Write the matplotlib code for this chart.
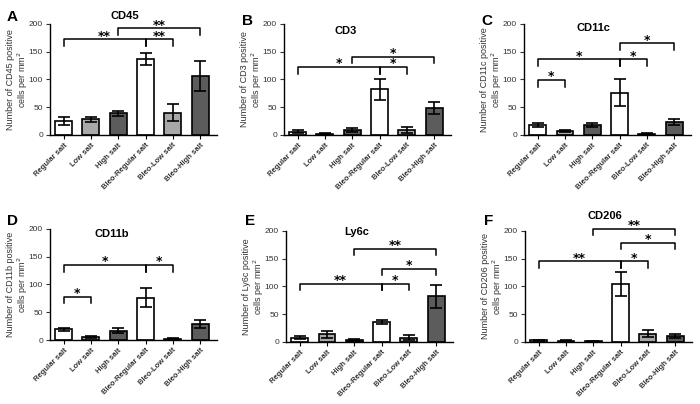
import matplotlib.pyplot as plt
import numpy as np

plt.rcParams['font.family'] = ['Liberation Sans', 'DejaVu Sans']

groups = ["Regular salt", "Low salt", "High salt",
          "Bleo-Regular salt", "Bleo-Low salt", "Bleo-High salt"]
bar_colors = ["white", "#a8a8a8", "#5c5c5c", "white", "#a8a8a8", "#5c5c5c"]

markers = ["CD45", "CD3", "CD11c", "CD11b", "Ly6c", "CD206"]
letters = ["A", "B", "C", "D", "E", "F"]

cd45_mean = [25, 28, 39, 137, 40, 106]
cd45_err = [7, 5, 5, 11, 15, 27]
cd3_mean = [6, 2, 9, 82, 9, 48]
cd3_err = [3, 1, 3, 19, 6, 11]
cd11c_mean = [18, 7, 18, 76, 2, 23]
cd11c_err = [3, 2, 3, 24, 1, 6]
cd11b_mean = [19, 6, 17, 76, 2, 29]
cd11b_err = [2, 2, 4, 17, 1, 7]
ly6c_mean = [8, 14, 3, 36, 8, 82]
ly6c_err = [3, 6, 2, 4, 5, 21]
cd206_mean = [3, 2, 1, 104, 15, 11]
cd206_err = [1, 1, 1, 22, 6, 3]

means = [cd45_mean, cd3_mean, cd11c_mean, cd11b_mean, ly6c_mean, cd206_mean]
errs = [cd45_err, cd3_err, cd11c_err, cd11b_err, ly6c_err, cd206_err]

# significance brackets: (from group, to group, height, label)
cd45_sig = [(0, 3, 172, "**"), (3, 4, 172, "**"), (2, 5, 192, "**")]
cd3_sig = [(0, 3, 122, "*"), (3, 4, 122, "*"), (2, 5, 141, "*")]
cd11c_sig = [(0, 1, 99, "*"), (0, 3, 136, "*"), (3, 4, 136, "*"), (3, 5, 165, "*")]
cd11b_sig = [(0, 1, 78, "*"), (0, 3, 135, "*"), (3, 4, 135, "*")]
ly6c_sig = [(0, 3, 105, "**"), (3, 4, 105, "*"), (3, 5, 132, "*"), (2, 5, 168, "**")]
cd206_sig = [(0, 3, 145, "**"), (3, 4, 145, "*"), (3, 5, 179, "*"), (2, 5, 204, "**")]
sigs = [cd45_sig, cd3_sig, cd11c_sig, cd11b_sig, ly6c_sig, cd206_sig]

# panel title placement (data coords)
title_x = [2.25, 1.75, 2.05, 1.75, 2.07, 2.43]
title_y = [214, 188, 193, 191, 198, 227]

# axes positions in figure fraction
lefts = [0.0714, 0.4057, 0.7486, 0.0714, 0.4086, 0.75]
bottoms = [0.666, 0.666, 0.666, 0.1584, 0.1535, 0.1535]
letter_pos = [(0.01, 0.975), (0.346, 0.965), (0.688, 0.965),
              (0.01, 0.47), (0.35, 0.47), (0.691, 0.47)]

fig = plt.figure(figsize=(7, 4.04), dpi=100)
x = np.arange(len(groups))

for i in range(6):
    ax = fig.add_axes([lefts[i], bottoms[i], 0.238, 0.2748])
    ax.bar(x, means[i], width=0.62, color=bar_colors, edgecolor="black",
           linewidth=1.2, zorder=2)
    ax.errorbar(x, means[i], yerr=errs[i], fmt="none", ecolor="black",
                elinewidth=1.2, capsize=4, capthick=1.2, zorder=3)
    ax.set_xlim(-0.5, 5.6)
    ax.set_ylim(0, 200)
    ax.set_yticks([0, 50, 100, 150, 200])
    ax.set_xticks(x)
    ax.set_xticklabels(groups, rotation=45, ha="right", rotation_mode="anchor",
                       fontsize=5.5, fontweight="bold", color="#333333")
    ax.tick_params(axis="y", labelsize=6, length=3, pad=2, colors="#333333")
    ax.tick_params(axis="x", length=3, pad=2)
    for s in ["top", "right"]:
        ax.spines[s].set_visible(False)
    ax.spines["left"].set_linewidth(1)
    ax.spines["bottom"].set_linewidth(1)
    ax.set_ylabel("Number of %s positive\ncells per mm$^2$" % markers[i],
                  fontsize=6.5, color="#333333", linespacing=1.1)
    ax.yaxis.set_label_coords(-0.12, 0.5)
    ax.text(title_x[i], title_y[i], markers[i], ha="center", va="center",
            fontsize=8, fontweight="bold", clip_on=False)

    for a, b, h, lab in sigs[i]:
        ax.plot([a, a, b, b], [h - 12, h, h, h - 12], color="black",
                lw=1.1, clip_on=False, zorder=4)
        ax.text((a + b) / 2, h + 6, lab, ha="center", va="center",
                fontsize=9, fontweight="bold", family="DejaVu Sans",
                clip_on=False)

    fig.text(letter_pos[i][0], letter_pos[i][1], letters[i], fontsize=11,
             fontweight="bold", va="top")

plt.savefig("out.png", dpi=100)
